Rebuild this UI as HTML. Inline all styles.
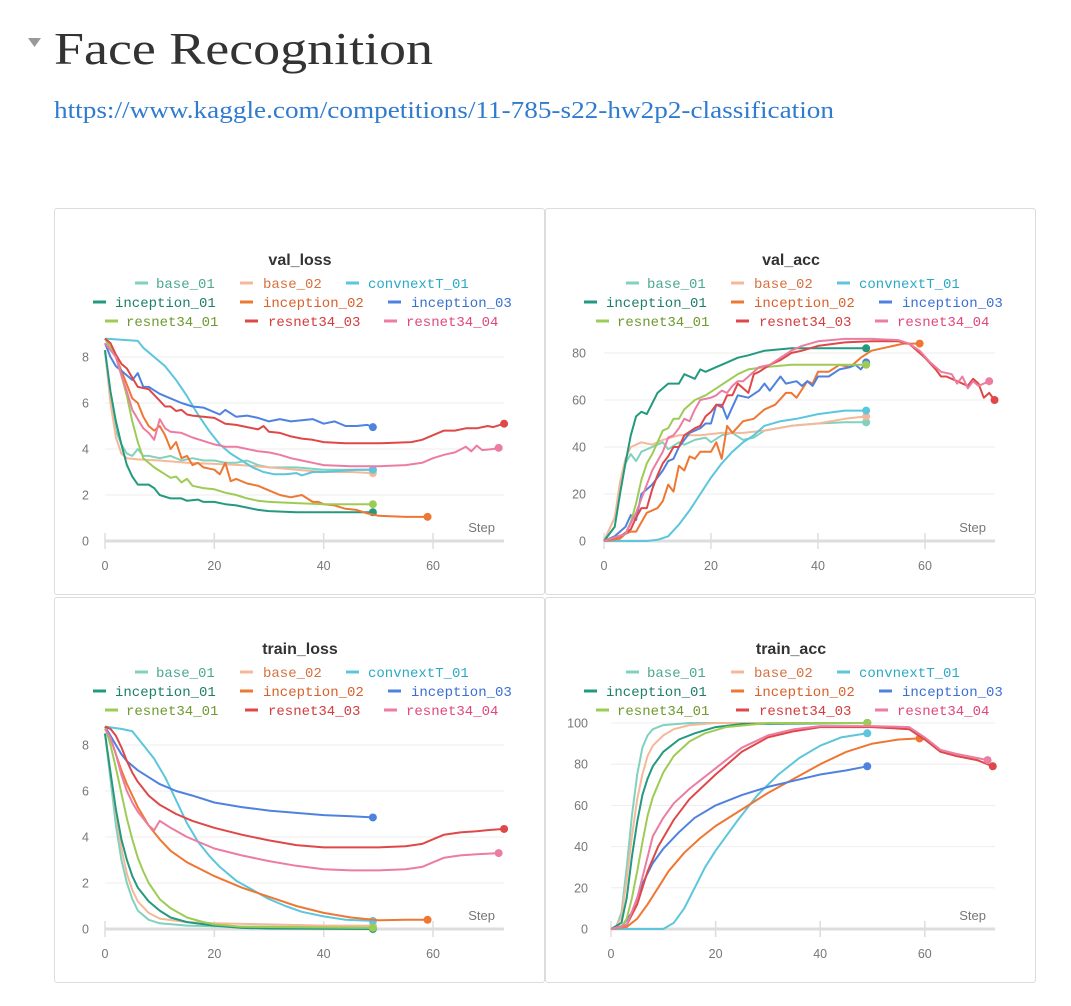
<!DOCTYPE html>
<html><head><meta charset="utf-8">
<style>
html,body{margin:0;padding:0;background:#fff;width:1071px;height:1006px;overflow:hidden;font-family:"Liberation Sans",sans-serif;}
.panel{position:absolute;border:1px solid #dcdcdc;border-radius:3px;box-sizing:border-box;background:#fff;}
svg text{font-family:"Liberation Sans",sans-serif;}
</style></head>
<body>
<svg style="position:absolute;left:0;top:0" width="1071" height="140">
  <polygon points="28,38 41,38 34.5,47" fill="#999"/>
  <text x="54" y="64" font-family="Liberation Serif, serif" font-size="46" fill="#333" textLength="379" lengthAdjust="spacingAndGlyphs" style="font-family:'Liberation Serif',serif">Face Recognition</text>
  <text x="54" y="118" font-size="24" fill="#2f7bd0" textLength="780" lengthAdjust="spacingAndGlyphs" style="font-family:'Liberation Serif',serif">https://www.kaggle.com/competitions/11-785-s22-hw2p2-classification</text>
</svg>

<div class="panel" style="left:54px;top:208px;width:491px;height:387px"><svg id="c0" width="489" height="385"></svg></div>
<div class="panel" style="left:545px;top:208px;width:491px;height:387px"><svg id="c1" width="489" height="385"></svg></div>
<div class="panel" style="left:54px;top:597px;width:491px;height:386px"><svg id="c2" width="489" height="384"></svg></div>
<div class="panel" style="left:545px;top:597px;width:491px;height:386px"><svg id="c3" width="489" height="384"></svg></div>

<script>
// ---------- series names & colors ----------
const seriesNames = ["base_01","base_02","convnextT_01","inception_01","inception_02","inception_03","resnet34_01","resnet34_03","resnet34_04"];
const lineColors = ["#80d2bf","#f5b898","#5bc6dc","#23997f","#ee7733","#4f82e0","#9dcc56","#df4848","#ec7ca2"];
const textColors = ["#4aa891","#d6703e","#2aa9c6","#1d7f68","#d9602a","#3b6fd2","#6e9a2e","#d43c3c","#e0487c"];

// ---------- val_loss ----------
const valLossBase01 = [[0,8.2],[1,6.3],[2,4.8],[3,4.2],[4,3.8],[5,3.7],[6,4.0],[7,3.7],[8,3.7],[10,3.6],[12,3.7],[14,3.5],[16,3.6],[18,3.5],[20,3.5],[22,3.4],[24,3.4],[26,3.5],[28,3.3],[30,3.2],[35,3.2],[40,3.1],[45,3.1],[49,3.1]];
const valLossBase02 = [[0,8.3],[1,6.0],[2,4.5],[3,3.8],[4,3.6],[6,3.55],[10,3.5],[15,3.4],[20,3.35],[25,3.3],[30,3.2],[35,3.1],[40,3.0],[45,3.0],[49,2.95]];
const valLossConvnext = [[0,8.8],[3,8.75],[6,8.7],[7,8.4],[9,8.0],[11,7.6],[13,7.0],[15,6.3],[17,5.5],[19,4.8],[21,4.2],[23,3.8],[25,3.5],[27,3.2],[29,3.0],[31,2.9],[33,2.9],[35,2.95],[36,2.85],[38,3.0],[40,3.0],[43,3.05],[46,3.1],[49,3.1]];
const valLossInc01 = [[0,8.3],[1,6.5],[2,5.2],[3,4.2],[4,3.3],[5,2.8],[6,2.45],[8,2.45],[9,2.3],[10,2.0],[12,1.85],[14,1.85],[15,1.75],[17,1.8],[18,1.7],[20,1.7],[22,1.6],[24,1.55],[26,1.45],[28,1.35],[30,1.3],[35,1.25],[40,1.25],[45,1.25],[49,1.25]];
const valLossInc02 = [[0,8.8],[2,8.0],[4,6.8],[5,6.2],[6,6.0],[7,5.4],[8,5.0],[9,4.8],[10,5.0],[11,4.6],[12,4.0],[13,4.3],[14,3.6],[15,3.7],[16,3.3],[17,3.4],[18,3.2],[20,3.1],[21,2.9],[22,3.4],[23,2.6],[24,2.7],[26,2.5],[28,2.4],[30,2.2],[32,2.0],[34,1.9],[36,2.0],[38,1.7],[39,1.7],[40,1.6],[42,1.55],[44,1.4],[46,1.35],[48,1.2],[50,1.1],[55,1.05],[59,1.05]];
const valLossInc03 = [[0,8.6],[1,8.0],[2,7.6],[3,7.4],[4,7.2],[5,7.0],[6,7.3],[7,6.7],[8,6.7],[10,6.4],[12,6.2],[14,6.0],[16,5.85],[18,5.8],[20,5.6],[21,5.5],[22,5.7],[24,5.4],[26,5.45],[28,5.35],[30,5.2],[32,5.3],[34,5.2],[36,5.25],[38,5.3],[40,5.1],[42,5.2],[44,5.0],[46,5.0],[48,5.05],[49,4.95]];
const valLossRes01 = [[0,8.8],[2,8.0],[3,7.2],[4,6.3],[5,5.2],[6,4.3],[7,3.6],[8,3.4],[9,3.2],[10,3.05],[11,2.9],[12,2.75],[13,2.8],[14,2.55],[15,2.7],[16,2.4],[18,2.3],[20,2.25],[22,2.1],[24,2.0],[26,1.85],[28,1.75],[30,1.7],[35,1.65],[40,1.6],[45,1.6],[49,1.6]];
const valLossRes03 = [[0,8.8],[1,8.6],[2,8.1],[3,7.7],[4,7.5],[5,7.1],[6,6.7],[8,6.6],[10,6.1],[11,5.85],[12,5.85],[13,5.65],[14,5.7],[15,5.5],[16,5.45],[18,5.4],[20,5.35],[22,5.1],[24,5.05],[26,4.95],[28,4.85],[29,5.0],[30,4.75],[32,4.7],[34,4.55],[36,4.45],[38,4.4],[40,4.3],[44,4.25],[50,4.25],[56,4.3],[58,4.4],[60,4.6],[62,4.8],[64,4.8],[66,4.9],[68,4.9],[70,5.0],[71,4.95],[73,5.1]];
const valLossRes04 = [[0,8.6],[2,8.0],[3,7.2],[4,6.5],[5,5.7],[6,5.3],[7,4.9],[8,4.7],[9,4.4],[10,5.3],[11,4.9],[12,4.75],[14,4.7],[16,4.5],[18,4.35],[20,4.2],[22,4.1],[24,4.1],[26,4.0],[28,3.9],[30,3.85],[32,3.75],[34,3.6],[36,3.5],[38,3.4],[40,3.3],[45,3.25],[50,3.25],[55,3.3],[58,3.4],[60,3.6],[62,3.75],[64,3.85],[66,4.1],[67,3.9],[68,4.15],[69,3.95],[71,4.0],[72,4.05]];

// ---------- val_acc ----------
const valAccBase01 = [[0,0],[2,10],[3,22],[4,33],[5,37],[6,34],[7,38],[9,40],[11,42],[12,39],[14,42],[15,41],[17,43],[19,44],[20,42],[22,45],[24,46],[26,43],[28,44],[30,47],[35,49],[40,50],[45,50.5],[49,50.5]];
const valAccBase02 = [[0,0],[2,10],[3,25],[4,35],[5,40],[7,42],[9,41],[11,43],[14,45],[18,45],[22,46],[26,46],[30,47],[35,49],[40,50],[45,52],[49,53]];
const valAccConvnext = [[0,0],[8,0],[10,0.5],[12,2],[14,7],[16,13],[18,20],[20,27],[22,33],[24,38],[26,42],[28,45],[30,49],[33,51],[36,52],[40,54],[45,55.5],[49,55.5]];
const valAccInc01 = [[0,0],[2,6],[3,20],[4,33],[5,45],[6,53],[7,55],[8,54],[10,63],[12,67],[14,67],[15,71],[17,69],[18,73],[19,72],[21,74],[23,76],[25,78],[27,79],[30,81],[35,82],[40,82],[49,82]];
const valAccInc02 = [[0,0],[3,1],[4,3],[5,4],[6,4],[7,8],[8,12],[10,14],[11,17],[12,24],[13,21],[14,32],[15,30],[16,36],[17,35],[18,38],[20,38],[21,42],[22,35],[23,49],[24,46],[26,51],[28,52],[30,56],[32,58],[34,63],[35,63],[36,61],[38,68],[39,67],[40,72],[42,72],[44,75],[46,74],[48,78],[50,81],[52,82],[56,84],[59,84]];
const valAccInc03 = [[0,0],[2,2],[4,6],[5,11],[6,9],[7,20],[9,24],[11,30],[12,34],[13,35],[14,40],[16,46],[17,47],[18,48],[19,50],[20,50],[21,58],[22,58],[23,52],[24,57],[25,62],[27,61],[29,64],[30,67],[31,64],[33,70],[34,67],[36,68],[37,66],[38,68],[39,66],[40,70],[42,70],[44,73],[46,74],[47,75],[48,73],[49,76]];
const valAccRes01 = [[0,0],[4,3],[5,8],[6,16],[7,26],[8,33],[9,37],[10,42],[11,47],[12,48],[13,52],[14,52],[15,56],[17,60],[19,62],[21,65],[23,68],[25,71],[27,73],[30,74],[35,75],[49,75]];
const valAccRes03 = [[0,0],[3,2],[5,5],[6,10],[7,14],[8,14],[9,22],[10,28],[11,33],[12,36],[13,40],[14,40],[15,45],[17,48],[18,49],[19,53],[20,55],[21,58],[22,57],[23,62],[24,62],[25,67],[26,65],[27,63],[28,71],[29,72],[31,75],[33,77],[35,80],[37,81],[40,83],[45,84.5],[50,85],[55,85],[57,84],[58,82],[60,78],[62,73],[63,70],[64,70],[66,68],[68,66],[69,69],[70,67],[71,61],[72,63],[73,60]];
const valAccRes04 = [[0,0],[4,3],[6,12],[7,18],[8,24],[9,30],[10,34],[11,38],[12,44],[13,45],[14,48],[15,52],[16,51],[17,56],[18,60],[20,61],[21,62],[22,64],[23,63],[24,66],[25,68],[26,68],[27,70],[29,74],[31,75],[33,78],[35,81],[37,83],[40,85],[45,86],[50,86],[55,85.5],[57,84],[59,81],[61,76],[63,72],[65,71],[66,67],[67,70],[68,65],[69,68],[70,66],[71,67],[72,68]];

// ---------- train_loss ----------
const trLossBase01 = [[0,8.5],[1,6.5],[2,4.5],[3,3.0],[4,2.0],[5,1.3],[6,0.8],[8,0.4],[10,0.25],[15,0.15],[20,0.12],[30,0.1],[40,0.1],[49,0.1]];
const trLossBase02 = [[0,8.5],[1,6.8],[2,5.0],[3,3.5],[4,2.4],[5,1.7],[6,1.2],[8,0.7],[10,0.45],[15,0.3],[20,0.25],[30,0.2],[40,0.15],[49,0.15]];
const trLossConvnext = [[0,8.8],[3,8.7],[5,8.6],[7,8.0],[9,7.4],[11,6.6],[13,5.6],[15,4.6],[17,3.8],[19,3.2],[21,2.7],[24,2.1],[27,1.7],[30,1.3],[33,1.0],[36,0.75],[40,0.55],[44,0.4],[49,0.35]];
const trLossInc01 = [[0,8.5],[1,6.8],[2,5.2],[3,3.9],[4,3.0],[5,2.3],[6,1.8],[8,1.2],[10,0.8],[12,0.5],[15,0.3],[20,0.15],[25,0.05],[30,0.02],[49,0.0]];
const trLossInc02 = [[0,8.8],[1,8.3],[2,7.6],[3,6.9],[4,6.3],[6,5.3],[8,4.5],[10,3.9],[12,3.4],[15,2.9],[20,2.3],[25,1.8],[30,1.4],[35,1.0],[40,0.7],[45,0.5],[50,0.38],[55,0.4],[59,0.4]];
const trLossInc03 = [[0,8.8],[1,8.4],[2,8.0],[3,7.6],[4,7.3],[6,6.9],[8,6.6],[10,6.3],[13,6.0],[16,5.8],[20,5.5],[25,5.3],[30,5.15],[35,5.05],[40,4.95],[45,4.9],[49,4.85]];
const trLossRes01 = [[0,8.8],[1,8.0],[2,7.0],[3,5.9],[4,4.8],[5,3.9],[6,3.1],[7,2.5],[8,2.0],[10,1.3],[12,0.9],[15,0.5],[18,0.3],[20,0.2],[25,0.1],[49,0.05]];
const trLossRes03 = [[0,8.8],[1,8.7],[2,8.4],[3,7.9],[4,7.3],[5,6.8],[6,6.4],[8,5.8],[10,5.4],[13,5.0],[16,4.7],[20,4.4],[25,4.1],[30,3.85],[35,3.65],[40,3.55],[45,3.55],[50,3.55],[55,3.6],[58,3.7],[60,3.9],[62,4.1],[65,4.2],[68,4.25],[70,4.3],[73,4.35]];
const trLossRes04 = [[0,8.7],[1,8.3],[2,7.6],[3,6.7],[4,6.0],[5,5.5],[6,5.1],[7,4.8],[8,4.5],[9,4.3],[10,4.7],[12,4.4],[15,4.0],[20,3.5],[25,3.2],[30,2.95],[35,2.75],[40,2.6],[45,2.55],[50,2.55],[55,2.6],[58,2.7],[60,2.9],[62,3.1],[65,3.2],[68,3.25],[72,3.3]];

// ---------- train_acc ----------
const trAccBase01 = [[0,0],[1,1],[2,8],[3,30],[4,55],[5,75],[6,88],[7,94],[8,97],[10,99],[15,100],[49,100]];
const trAccBase02 = [[0,0],[1,1],[2,6],[3,24],[4,45],[5,63],[6,75],[7,84],[8,89],[10,94],[12,97],[15,99],[20,100],[49,100]];
const trAccConvnext = [[0,0],[10,0],[12,3],[14,10],[16,20],[18,30],[20,38],[24,52],[28,65],[32,75],[36,83],[40,89],[44,93],[49,95]];
const trAccInc01 = [[0,0],[2,3],[3,15],[4,35],[5,52],[6,65],[7,73],[8,79],[10,86],[13,92],[16,95],[20,98],[25,99.5],[49,100]];
const trAccInc02 = [[0,0],[3,1],[5,5],[7,12],[9,20],[11,28],[14,37],[17,44],[20,50],[25,58],[30,66],[35,73],[40,80],[45,86],[50,90],[55,92],[59,92.5]];
const trAccInc03 = [[0,0],[2,1],[4,8],[6,22],[8,32],[10,39],[13,47],[16,54],[20,60],[25,65],[30,69],[35,72],[40,75],[45,77],[49,79]];
const trAccRes01 = [[0,0],[2,1],[3,5],[4,15],[5,28],[6,42],[7,55],[8,64],[10,76],[12,84],[15,91],[18,95],[22,98],[30,100],[49,100]];
const trAccRes03 = [[0,0],[3,2],[5,12],[7,28],[9,40],[12,53],[15,63],[20,75],[25,86],[30,93],[35,96],[40,98],[50,98],[57,97],[60,92],[63,86],[66,84],[70,82],[73,79]];
const trAccRes04 = [[0,0],[3,2],[5,15],[7,35],[8,45],[10,54],[12,61],[15,68],[20,78],[25,88],[30,94],[35,97],[40,98.5],[50,98.5],[57,98],[60,93],[63,87],[66,85],[70,83],[72,82]];

// ---------- ticks ----------
const xTicks = [0,20,40,60];
const lossTicks = [0,2,4,6,8];
const valAccTicks = [0,20,40,60,80];
const trAccTicks = [0,20,40,60,80,100];

const NS = "http://www.w3.org/2000/svg";
function mk(parent, tag, attrs, txt){
  const e = document.createElementNS(NS, tag);
  for (const k in attrs) e.setAttribute(k, attrs[k]);
  if (txt !== undefined) e.textContent = txt;
  parent.appendChild(e);
  return e;
}

const charts = [
  {id:"c0", key:"val-loss", title:"val_loss", series:[valLossBase01,valLossBase02,valLossConvnext,valLossInc01,valLossInc02,valLossInc03,valLossRes01,valLossRes03,valLossRes04], yTicks:lossTicks, x0:50, xs:5.467, y0:332, yTop:148, yMaxVal:8, yLabX:34},
  {id:"c1", key:"val-acc", title:"val_acc", series:[valAccBase01,valAccBase02,valAccConvnext,valAccInc01,valAccInc02,valAccInc03,valAccRes01,valAccRes03,valAccRes04], yTicks:valAccTicks, x0:58, xs:5.35, y0:332, yTop:144, yMaxVal:80, yLabX:40},
  {id:"c2", key:"train-loss", title:"train_loss", series:[trLossBase01,trLossBase02,trLossConvnext,trLossInc01,trLossInc02,trLossInc03,trLossRes01,trLossRes03,trLossRes04], yTicks:lossTicks, x0:50, xs:5.467, y0:331, yTop:147, yMaxVal:8, yLabX:34},
  {id:"c3", key:"train-acc", title:"train_acc", series:[trAccBase01,trAccBase02,trAccConvnext,trAccInc01,trAccInc02,trAccInc03,trAccRes01,trAccRes03,trAccRes04], yTicks:trAccTicks, x0:65, xs:5.23, y0:331, yTop:125, yMaxVal:100, yLabX:42}
];

// legend layout (per panel, local coordinates): marker x, text x, row
const legendMarkerX = [80,185,291, 38,185,333, 50,190,329];
const legendTextX   = [101,208,313, 60,208,356, 71,213,351];
const legendRowY    = [79,98,117];

charts.forEach(c => {
  const svg = document.getElementById(c.id);
  
  
  const xScale = v => c.x0 + v * c.xs;
  const yScale = v => c.y0 - v * (c.y0 - c.yTop) / c.yMaxVal;
  const axisEnd = 449;

  const t = mk(svg, 'text', {x:245, y:56, 'text-anchor':'middle', 'font-size':16, 'font-weight':'bold', fill:'#333'}, c.title);
  
  

  // legend
  seriesNames.forEach((n, i) => {
    const g = mk(svg, 'g', {});
    
    
    const row = Math.floor(i / 3);
    const y = legendRowY[row];
    mk(g, 'line', {x1:legendMarkerX[i], x2:legendMarkerX[i]+13, y1:y-5, y2:y-5, stroke:lineColors[i], 'stroke-width':3});
    mk(g, 'text', {x:legendTextX[i], y:y, 'font-size':14, fill:textColors[i], style:'font-family:"Liberation Mono",monospace'}, n);
  });

  // grid + y ticks
  c.yTicks.forEach(v => {
    const y = yScale(v);
    if (v !== 0) {
      const gl = mk(svg, 'line', {x1:c.x0, x2:axisEnd, y1:y, y2:y, stroke:'#eeeeee', 'stroke-width':1});
      
      
    }
    const tl = mk(svg, 'text', {x:c.yLabX, y:y+4.5, 'text-anchor':'end', 'font-size':12.5, fill:'#777'}, String(v));
    
    
  });
  // x axis
  const ax = mk(svg, 'line', {x1:c.x0, x2:axisEnd, y1:c.y0, y2:c.y0, stroke:'#dddddd', 'stroke-width':3});
  
  
  xTicks.forEach(v => {
    const x = xScale(v);
    mk(svg, 'line', {x1:x, x2:x, y1:c.y0-8, y2:c.y0+8, stroke:'#dddddd', 'stroke-width':1.5});
    const xl = mk(svg, 'text', {x:x, y:c.y0+29, 'text-anchor':'middle', 'font-size':12.5, fill:'#777'}, String(v));
    
    
  });
  const st = mk(svg, 'text', {x:440, y:c.y0-9, 'text-anchor':'end', 'font-size':13, fill:'#777'}, 'Step');
  
  

  // series
  c.series.forEach((data, i) => {
    const pts = data.map(p => xScale(p[0]).toFixed(1) + ',' + yScale(p[1]).toFixed(1)).join(' ');
    const pl = mk(svg, 'polyline', {points:pts, fill:'none', stroke:lineColors[i], 'stroke-width':2, 'stroke-linejoin':'round'});
    
    
    const last = data[data.length-1];
    const dot = mk(svg, 'circle', {cx:xScale(last[0]), cy:yScale(last[1]), r:4, fill:lineColors[i]});
    
    
  });
});
</script>
</body></html>
